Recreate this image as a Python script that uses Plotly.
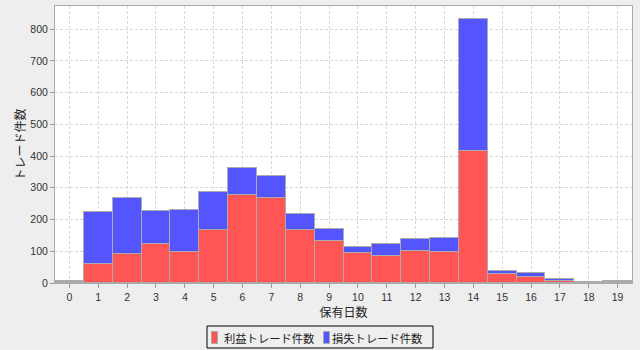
import plotly.graph_objects as go

days = list(range(20))
win_counts = [4, 60, 91, 123, 97, 167, 277, 268, 167, 132, 94, 85, 101, 97, 416, 28, 19, 6, 1, 4]
loss_counts = [3, 163, 177, 104, 133, 120, 85, 69, 50, 38, 21, 38, 38, 45, 416, 10, 13, 7, 1, 3]
win_name = "利益トレード件数"
loss_name = "損失トレード件数"
x_title = "保有日数"
y_title = "トレード件数"
win_color = "#FF5555"
loss_color = "#5555FF"

W, H = 640, 350
L, R, T, B = 55, 8, 6, 67
pw, ph = W - L - R, H - T - B


def px(x):
    return (x - L) / pw


def py(y):
    return (H - B - y) / ph


outline = dict(color="#ABABAB", width=1)
fig = go.Figure()
fig.add_trace(go.Bar(x=days, y=win_counts, name=win_name,
                     marker=dict(color=win_color, line=outline)))
fig.add_trace(go.Bar(x=days, y=loss_counts, name=loss_name,
                     marker=dict(color=loss_color, line=outline)))

tickfont = dict(family="Liberation Sans, Arial, sans-serif", size=10.5, color="#333333")
cjk = "Noto Sans CJK JP"

# custom legend box (drawn in paper coordinates)
shapes = [
    dict(type="rect", xref="paper", yref="paper", x0=px(207), x1=px(433), y0=py(326), y1=py(348),
         line=dict(color="#000000", width=1), fillcolor="rgba(0,0,0,0)"),
    dict(type="rect", xref="paper", yref="paper", x0=px(211.5), x1=px(217.5), y0=py(331.5), y1=py(343.5),
         line=dict(color="#AAAAAA", width=1), fillcolor=win_color),
    dict(type="rect", xref="paper", yref="paper", x0=px(323.5), x1=px(329.5), y0=py(331.5), y1=py(343.5),
         line=dict(color="#AAAAAA", width=1), fillcolor=loss_color),
]
annotations = [
    dict(text=win_name, xref="paper", yref="paper", x=px(222), y=py(337.5), xanchor="left", yanchor="middle",
         showarrow=False, font=dict(family=cjk, size=11.3, color="#222222")),
    dict(text=loss_name, xref="paper", yref="paper", x=px(330), y=py(337.5), xanchor="left", yanchor="middle",
         showarrow=False, font=dict(family=cjk, size=11.3, color="#222222")),
]

fig.update_layout(
    width=W, height=H,
    barmode="stack", bargap=0,
    paper_bgcolor="#EEEEEE", plot_bgcolor="#FFFFFF",
    margin=dict(l=L, r=R, t=T, b=B),
    font=dict(family=cjk, size=12, color="#222222"),
    showlegend=False,
    shapes=shapes,
    annotations=annotations,
)
fig.update_xaxes(
    range=[-0.5, 19.5], tickmode="linear", tick0=0, dtick=1,
    tickfont=tickfont, ticks="outside", ticklen=4, tickcolor="#999999",
    showline=True, linecolor="#AAAAAA", linewidth=1, mirror=True,
    showgrid=True, gridcolor="#D8D8D8", griddash="3px,2px", gridwidth=1,
    zeroline=False,
    title=dict(text=x_title, font=dict(family=cjk, size=12, color="#222222"), standoff=6),
)
fig.update_yaxes(
    range=[0, 873], tickmode="linear", tick0=0, dtick=100,
    tickfont=tickfont, ticks="outside", ticklen=4, tickcolor="#999999",
    showline=True, linecolor="#AAAAAA", linewidth=1, mirror=True,
    showgrid=True, gridcolor="#D8D8D8", griddash="3px,2px", gridwidth=1,
    zeroline=False,
    title=dict(text=y_title, font=dict(family=cjk, size=12, color="#222222"), standoff=2),
)
fig.write_html("out.html")
